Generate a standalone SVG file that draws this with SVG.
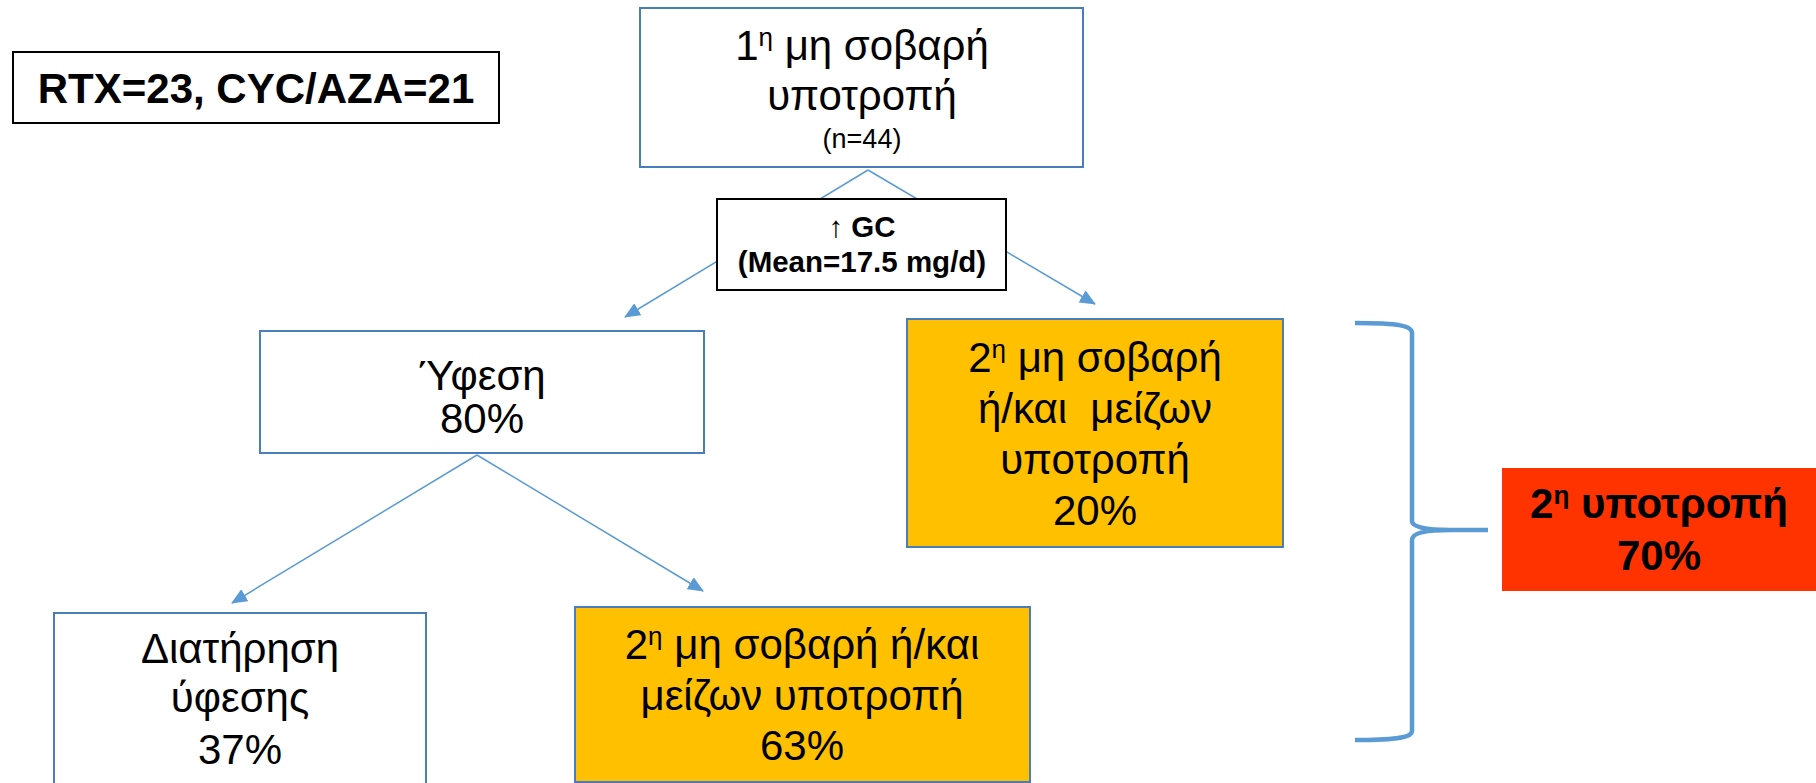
<svg xmlns="http://www.w3.org/2000/svg" width="1816" height="783" viewBox="0 0 1816 783">
<style>
text{font-family:"Liberation Sans",Arial,sans-serif;fill:#000;text-anchor:middle}
.b{font-weight:bold}
.box{fill:#fff;stroke:#4a7ebb;stroke-width:2}
.org{fill:#FFC000;stroke:#4a7ebb;stroke-width:2}
.blk{fill:#fff;stroke:#000;stroke-width:2}
.con{stroke:#5B9BD5;stroke-width:1.5;fill:none}
.t40{font-size:42px}
</style>
<defs>
<marker id="ah" viewBox="0 0 16 14" refX="15" refY="7" markerWidth="16" markerHeight="14" markerUnits="userSpaceOnUse" orient="auto">
<path d="M0,0 L16,7 L0,14 z" fill="#5B9BD5"/>
</marker>
</defs>
<g id="connectors">
<line class="con" x1="868" y1="170" x2="625" y2="317" marker-end="url(#ah)"/>
<line class="con" x1="868" y1="170" x2="1095" y2="304" marker-end="url(#ah)"/>
<line class="con" x1="477" y1="455" x2="232" y2="603" marker-end="url(#ah)"/>
<line class="con" x1="477" y1="455" x2="703" y2="591" marker-end="url(#ah)"/>
<path id="brace" d="M1355,323 C1400,323 1412,326 1412,333 L1412,521 C1412,527 1425,530 1450,530 L1488,530 M1450,530 C1425,530 1412,533 1412,540 L1412,731 C1412,737 1400,740 1355,740" stroke="#5B9BD5" stroke-width="4.5" fill="none"/>
</g>
<g id="counts">
<rect class="blk" x="13" y="52" width="486" height="71"/>
<text class="b" x="256" y="103" font-size="42">RTX=23, CYC/AZA=21</text>
</g>
<g id="first-relapse">
<rect class="box" x="640" y="8" width="443" height="159"/>
<text class="t40" x="862" y="60">1<tspan font-size="26" dy="-14">η</tspan><tspan dy="14"> μη σοβαρή</tspan></text>
<text class="t40" x="862" y="110">υποτροπή</text>
<text x="862" y="148" font-size="27">(n=44)</text>
</g>
<g id="gc">
<rect class="blk" x="717" y="199" width="289" height="91"/>
<text class="b" x="862" y="237" font-size="29.5">↑ GC</text>
<text class="b" x="862" y="272" font-size="29.5">(Mean=17.5 mg/d)</text>
</g>
<g id="remission">
<rect class="box" x="260" y="331" width="444" height="122"/>
<text class="t40" x="482" y="390">Ύφεση</text>
<text class="t40" x="482" y="433">80%</text>
</g>
<g id="second-relapse-a">
<rect class="org" x="907" y="319" width="376" height="228"/>
<text class="t40" x="1095" y="372">2<tspan font-size="26" dy="-14">η</tspan><tspan dy="14"> μη σοβαρή</tspan></text>
<text class="t40" x="1095" y="423" xml:space="preserve">ή/και  μείζων</text>
<text class="t40" x="1095" y="474">υποτροπή</text>
<text class="t40" x="1095" y="525">20%</text>
</g>
<g id="maintenance">
<rect class="box" x="54" y="613" width="372" height="190"/>
<text class="t40" x="240" y="663">Διατήρηση</text>
<text class="t40" x="240" y="712">ύφεσης</text>
<text class="t40" x="240" y="764">37%</text>
</g>
<g id="second-relapse-b">
<rect class="org" x="575" y="607" width="455" height="175"/>
<text class="t40" x="802" y="659">2<tspan font-size="26" dy="-14">η</tspan><tspan dy="14"> μη σοβαρή ή/και</tspan></text>
<text class="t40" x="802" y="710">μείζων υποτροπή</text>
<text class="t40" x="802" y="760">63%</text>
</g>
<g id="total-relapse">
<rect x="1502" y="468" width="314" height="123" fill="#FF3300"/>
<text class="b t40" x="1659" y="518">2<tspan font-size="26" dy="-14">η</tspan><tspan dy="14"> υποτροπή</tspan></text>
<text class="b t40" x="1659" y="570">70%</text>
</g>
</svg>
